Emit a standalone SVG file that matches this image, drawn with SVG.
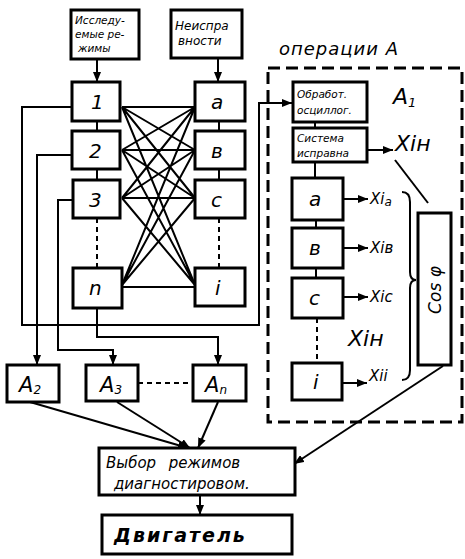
<svg xmlns="http://www.w3.org/2000/svg" width="465" height="559" viewBox="0 0 465 559">
<style>
.box{fill:#fff;stroke:#000;stroke-width:3}
.ln{fill:none;stroke:#000;stroke-width:2}
.dash{fill:none;stroke:#000;stroke-width:2;stroke-dasharray:5 4}
.t{font-family:"DejaVu Sans","Liberation Sans",sans-serif;font-style:italic;fill:#000}
.s{font-size:10.5px}
.m{font-size:20px}
.l{font-size:22px}
</style>
<defs>
<marker id="ah" markerUnits="userSpaceOnUse" markerWidth="10" markerHeight="8" refX="10" refY="4" orient="auto">
<path d="M0,0 L10,4 L0,8 z" fill="#000"/>
</marker>
</defs>
<rect width="465" height="559" fill="#fff"/>
<g id="connectors">
<path class="ln" marker-end="url(#ah)" d="M97,59 V82"/>
<path class="ln" marker-end="url(#ah)" d="M218,59 V82"/>
<path class="ln" d="M97,121 V131 M97,169 V180 M219,121 V131 M219,169 V180"/>
<path class="dash" d="M97,218 V268 M219,218 V268"/>
<path class="ln" d="M122,107 L195,107 M122,107 L195,150 M122,107 L195,198 M122,107 L195,285
M122,150 L195,107 M122,150 L195,150 M122,150 L195,198 M122,150 L195,285
M122,198 L195,107 M122,198 L195,150 M122,198 L195,198 M122,198 L195,285
M122,285 L195,107 M122,285 L195,150 M122,285 L195,198 M122,287 L195,287"/>
<path class="ln" marker-end="url(#ah)" d="M72,107 H22 V325 H259 V103 H292"/>
<path class="ln" marker-end="url(#ah)" d="M72,155 H37 V365"/>
<path class="ln" marker-end="url(#ah)" d="M72,200 H58 V350 H113 V365"/>
<path class="ln" marker-end="url(#ah)" d="M97,308 V337 H218 V365"/>
<path class="dash" d="M138,383 H193"/>
<path class="ln" d="M315,122 V128 M315,162 V178 M316,220 V228 M316,268 V278"/>
<path class="dash" d="M317,318 V363"/>
<path class="ln" marker-end="url(#ah)" d="M367,150 H393"/>
<path class="ln" marker-end="url(#ah)" d="M343,199 H368"/>
<path class="ln" marker-end="url(#ah)" d="M343,248 H368"/>
<path class="ln" marker-end="url(#ah)" d="M343,297 H368"/>
<path class="ln" marker-end="url(#ah)" d="M342,383 H367"/>
<path class="ln" d="M402,192 Q410,192 410,202 L410,272 Q410,280 416,280 Q410,280 410,288 L410,370 Q410,380 402,380"/>
<path class="ln" d="M395,160 L428,203"/>
<path class="ln" marker-end="url(#ah)" d="M443,366 L294,464"/>
<path class="ln" marker-end="url(#ah)" d="M30,402 L188,448"/>
<path class="ln" marker-end="url(#ah)" d="M117,402 L190,448"/>
<path class="ln" marker-end="url(#ah)" d="M218,402 L198,448"/>
<path class="ln" marker-end="url(#ah)" d="M200,495 V515"/>
</g>
<rect x="268" y="68" width="194" height="354" fill="none" stroke="#000" stroke-width="3" stroke-dasharray="12 6"/>
<text class="t" x="279" y="55" font-size="18" letter-spacing="1">операции A</text>
<text class="t l" x="393" y="104">A<tspan font-size="13" dy="3">1</tspan></text>
<text class="t l" x="395" y="151">Xiн</text>
<text class="t l" x="348" y="346">Xiн</text>
<text class="t" x="370" y="204" font-size="15">Xi<tspan font-size="12" dy="2">a</tspan></text>
<text class="t" x="370" y="253" font-size="15">Xiв</text>
<text class="t" x="370" y="302" font-size="15">Xic</text>
<text class="t" x="369" y="381" font-size="15">Xii</text>
<g id="n-issled"><rect class="box" x="71" y="10" width="68" height="49"/>
<text class="t s" x="75" y="24">Исследу-</text><text class="t s" x="75" y="38">емые ре-</text><text class="t s" x="78" y="52">жимы</text></g>
<g id="n-neispr"><rect class="box" x="171" y="10" width="71" height="48"/>
<text class="t" font-size="12" x="175" y="30">Неиспра</text><text class="t" font-size="12" x="178" y="45">вности</text></g>
<g id="n1"><rect class="box" x="72" y="82" width="48" height="39"/><text class="t m" x="91" y="109">1</text></g>
<g id="n2"><rect class="box" x="72" y="131" width="48" height="38"/><text class="t m" x="89" y="158">2</text></g>
<g id="n3"><rect class="box" x="73" y="180" width="47" height="38"/><text class="t m" x="89" y="207">3</text></g>
<g id="nn"><rect class="box" x="73" y="268" width="49" height="40"/><text class="t m" x="89" y="295">n</text></g>
<g id="na"><rect class="box" x="195" y="82" width="50" height="39"/><text class="t m" x="211" y="109">a</text></g>
<g id="nb"><rect class="box" x="195" y="131" width="50" height="38"/><text class="t m" x="211" y="158">в</text></g>
<g id="nc"><rect class="box" x="195" y="180" width="50" height="38"/><text class="t m" x="211" y="207">c</text></g>
<g id="ni"><rect class="box" x="195" y="268" width="50" height="38"/><text class="t m" x="215" y="295">i</text></g>
<g id="n-obrab"><rect class="box" x="293" y="82" width="74" height="40"/>
<text class="t s" x="297" y="98">Обработ.</text><text class="t s" x="297" y="114">осциллог.</text></g>
<g id="n-sist"><rect class="box" x="293" y="128" width="74" height="34"/>
<text class="t s" x="297" y="142">Система</text><text class="t s" x="297" y="157">исправна</text></g>
<g id="a1a"><rect class="box" x="292" y="178" width="51" height="42"/><text class="t m" x="309" y="206">a</text></g>
<g id="a1b"><rect class="box" x="292" y="228" width="51" height="40"/><text class="t m" x="309" y="255">в</text></g>
<g id="a1c"><rect class="box" x="292" y="278" width="51" height="40"/><text class="t m" x="309" y="305">c</text></g>
<g id="a1i"><rect class="box" x="292" y="363" width="50" height="37"/><text class="t m" x="313" y="389">i</text></g>
<g id="n-cos"><rect class="box" x="418" y="213" width="33" height="152"/>
<text class="t" font-size="17" transform="translate(441,290) rotate(-90)" text-anchor="middle">Cos φ</text></g>
<g id="nA2"><rect class="box" x="7" y="365" width="52" height="37"/><text class="t" font-size="21" x="19" y="392">A<tspan font-size="12" dy="2">2</tspan></text></g>
<g id="nA3"><rect class="box" x="86" y="365" width="52" height="36"/><text class="t" font-size="21" x="100" y="392">A<tspan font-size="12" dy="2">3</tspan></text></g>
<g id="nAn"><rect class="box" x="193" y="365" width="53" height="36"/><text class="t" font-size="21" x="205" y="392">A<tspan font-size="12" dy="2">n</tspan></text></g>
<g id="n-vybor"><rect class="box" x="99" y="448" width="196" height="47"/>
<text class="t" font-size="15" x="106" y="468" word-spacing="8">Выбор режимов</text><text class="t" font-size="15" x="114" y="489">диагностировом.</text></g>
<g id="n-dvig"><rect class="box" x="102" y="515" width="190" height="39"/>
<text class="t" font-size="19" font-weight="bold" x="114" y="542" letter-spacing="2">Двигатель</text></g>
</svg>
